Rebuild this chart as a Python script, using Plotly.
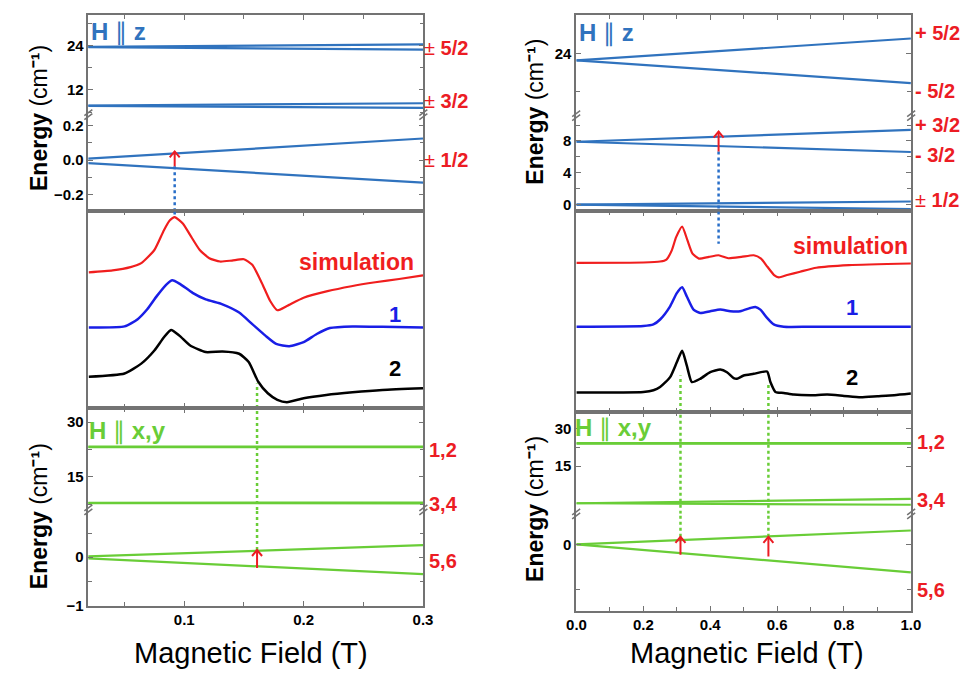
import plotly.graph_objects as go

W, H = 977, 674

# ---------------- Zeeman levels, H || z  (energy in cm^-1, field in T) ----------------
left_field = [0.0, 0.3]
left_z_p52 = [23.6, 24.3]
left_z_m52 = [23.6, 22.9]
left_z_p32 = [7.75, 8.4]
left_z_m32 = [7.75, 7.15]
left_z_p12 = [0.0, 0.125]
left_z_m12 = [-0.01, -0.13]

right_field = [0.0, 1.0]
right_z_p52 = [23.3, 25.6]
right_z_m52 = [23.3, 20.9]
right_z_p32 = [7.9, 9.4]
right_z_m32 = [7.9, 6.6]
right_z_p12 = [-0.05, 0.35]
right_z_m12 = [-0.05, -0.6]

# ---------------- Zeeman levels, H || x,y ----------------
left_xy_1 = [23.25, 23.25]
left_xy_2 = [23.1, 23.1]
left_xy_3 = [7.95, 8.0]
left_xy_4 = [7.85, 7.8]
left_xy_5 = [0.0, 0.25]
left_xy_6 = [0.0, -0.35]

right_xy_1 = [24.2, 24.2]
right_xy_2 = [24.0, 24.0]
right_xy_3 = [0.3, 2.0]
right_xy_4 = [0.3, -0.3]
right_xy_5 = [0.0, 0.31]
right_xy_6 = [0.0, -0.62]

# ---------------- EPR spectra (arb. units) ----------------
left_sim_B = [0.02, 0.04, 0.055, 0.064, 0.075, 0.083, 0.088, 0.092, 0.099, 0.105, 0.113,
              0.121, 0.13, 0.14, 0.15, 0.157, 0.165, 0.172, 0.178, 0.186, 0.20, 0.22,
              0.24, 0.26, 0.28, 0.30]
left_sim_I = [4.12, 4.18, 4.28, 4.40, 4.80, 5.40, 5.70, 5.80, 5.60, 5.25, 4.80,
              4.55, 4.45, 4.48, 4.52, 4.35, 3.80, 3.25, 2.97, 3.10, 3.35, 3.55,
              3.70, 3.82, 3.92, 4.03]

left_s1_B = [0.02, 0.05, 0.061, 0.069, 0.077, 0.085, 0.09, 0.096, 0.107, 0.118, 0.132,
             0.146, 0.157, 0.168, 0.177, 0.188, 0.20, 0.211, 0.222, 0.241, 0.266, 0.30]
left_s1_I = [2.45, 2.48, 2.70, 3.00, 3.40, 3.75, 3.88, 3.78, 3.50, 3.30, 3.15,
             2.90, 2.55, 2.20, 1.95, 1.88, 2.00, 2.25, 2.43, 2.48, 2.47, 2.45]

left_s2_B = [0.02, 0.05, 0.064, 0.075, 0.083, 0.089, 0.096, 0.105, 0.118, 0.132, 0.146,
             0.154, 0.162, 0.17, 0.178, 0.186, 0.20, 0.219, 0.241, 0.266, 0.30]
left_s2_I = [0.95, 1.05, 1.35, 1.75, 2.15, 2.37, 2.20, 1.90, 1.70, 1.72, 1.65,
             1.40, 0.80, 0.45, 0.25, 0.18, 0.30, 0.40, 0.48, 0.55, 0.60]

right_sim_B = [0.0, 0.2, 0.25, 0.269, 0.285, 0.298, 0.316, 0.332, 0.347, 0.366, 0.396,
               0.425, 0.454, 0.493, 0.53, 0.552, 0.571, 0.591, 0.605, 0.63, 0.669,
               0.717, 0.815, 1.0]
right_sim_I = [4.52, 4.53, 4.56, 4.62, 4.90, 5.30, 5.62, 5.20, 4.80, 4.65, 4.70,
               4.75, 4.66, 4.70, 4.75, 4.65, 4.40, 4.15, 4.08, 4.15, 4.25,
               4.37, 4.45, 4.50]

right_s1_B = [0.0, 0.2, 0.23, 0.25, 0.28, 0.30, 0.316, 0.33, 0.35, 0.37, 0.40, 0.43,
              0.46, 0.49, 0.52, 0.535, 0.55, 0.57, 0.59, 0.62, 0.7, 1.0]
right_s1_I = [2.58, 2.60, 2.65, 2.80, 3.20, 3.60, 3.78, 3.50, 3.10, 3.00, 3.05, 3.10,
              3.05, 3.05, 3.15, 3.18, 3.10, 2.85, 2.65, 2.58, 2.58, 2.58]

right_s2_B = [0.0, 0.2, 0.23, 0.25, 0.28, 0.30, 0.316, 0.33, 0.345, 0.37, 0.40, 0.43,
              0.45, 0.47, 0.48, 0.50, 0.53, 0.57, 0.58, 0.595, 0.62, 0.65, 0.7, 0.75,
              0.8, 0.85, 0.9, 0.95, 1.0]
right_s2_I = [0.58, 0.60, 0.65, 0.75, 1.05, 1.50, 1.85, 1.40, 0.90, 1.00, 1.20, 1.28,
              1.20, 1.02, 1.00, 1.10, 1.15, 1.22, 0.90, 0.60, 0.57, 0.52, 0.50, 0.52,
              0.48, 0.44, 0.47, 0.50, 0.55]

# ---------------- resonance transitions ----------------
left_res_z, left_arrow_z = 0.092, (-0.036, 0.05)
left_res_xy, left_arrow_xy = 0.161, (-0.22, 0.15)
right_res_z, right_arrow_z = 0.425, (6.67, 9.17)
right_res_xy = [0.311, 0.574]
right_arrow_xy = [(-0.23, 0.17), (-0.27, 0.17)]
left_dot_z_end, left_dot_xy_end = 5.88, 0.75
right_dot_z_end, right_dot_xy_end = 5.1, [1.1, 0.85]

# ---------------- styling ----------------
FONT = "Liberation Sans, Arial, sans-serif"
AX = "rgb(115,115,115)"
BLUE_LVL = "rgb(48,115,190)"
GREEN_LVL = "rgb(105,205,55)"
RED_TXT = "rgb(236,28,36)"
SIM_RED = "rgb(240,30,30)"
EXP_BLUE = "rgb(25,30,230)"

fig = go.Figure()


def ydom(top, bot):
    return [1 - bot / H, 1 - top / H]


# subplot geometry per column: x-domain (px), panel rows (px), ranges and ticks
columns = {
    "L": dict(x=(80, 422), rows=[(15, 116), (116, 214), (214, 413), (413, 516), (516, 613)],
              xrange=[0.0197, 0.3003], dtick=0.1, minor=0.05,
              yr=[[5.33, 32.3], [-0.297, 0.263], [0, 5.97], [6.0, 33.8], [-1.003, 0.98]],
              yt=[dict(dtick=12, tick0=0, minor=dict(dtick=6)),
                  dict(dtick=0.2, tick0=0, tickformat=".1f", minor=dict(dtick=0.1)),
                  None,
                  dict(dtick=15, tick0=0, minor=dict(dtick=7.5)),
                  dict(dtick=1, tick0=0, minor=dict(dtick=0.5))]),
    "R": dict(x=(578, 920), rows=[(15, 117), (117, 214), (214, 417), (417, 520), (520, 618)],
              xrange=[-0.001, 1.001], dtick=0.2, minor=0.1,
              yr=[[17.47, 28.1], [-0.91, 11.2], [-0.01, 6.08], [-3.9, 36.5], [-1.47, 0.68]],
              yt=[dict(tickvals=[24], minor=dict(tickvals=[20, 28])),
                  dict(dtick=4, tick0=0, minor=dict(dtick=2)),
                  None,
                  dict(tickvals=[15, 30], minor=dict(tickvals=[22.5])),
                  dict(tickvals=[0], minor=dict(tickvals=[-1]))]),
}

tickfont = dict(family=FONT, size=15, color="black", weight="bold")
layout = {}
for ci, key in enumerate(["L", "R"]):
    c = columns[key]
    xd = [c["x"][0] / W, c["x"][1] / W]
    for r in range(5):
        n = ci * 5 + r + 1
        xn = "xaxis" if n == 1 else f"xaxis{n}"
        yn = "yaxis" if n == 1 else f"yaxis{n}"
        xid = "x" if n == 1 else f"x{n}"
        yid = "y" if n == 1 else f"y{n}"
        xa = dict(domain=xd, anchor=yid, range=c["xrange"], showgrid=False, zeroline=False,
                  showline=True, linecolor=AX, linewidth=1.5, ticks="inside", ticklen=5,
                  tickcolor=AX, tickwidth=1.2, dtick=c["dtick"], tick0=0,
                  minor=dict(dtick=c["minor"], ticks="inside", ticklen=4, tickcolor=AX),
                  showticklabels=False, tickfont=tickfont, tickformat=".1f")
        if r == 0 or r == 3:
            xa["side"] = "top"
        if r == 1:
            xa["ticks"] = ""
            xa["minor"] = dict(ticks="")
        if r == 2:
            xa["mirror"] = "ticks"
        if r == 4:
            xa["showticklabels"] = True
        layout[xn] = xa

        ya = dict(domain=ydom(*c["rows"][r]), anchor=xid, range=c["yr"][r], showgrid=False,
                  zeroline=False, showline=True, linecolor=AX, linewidth=1.5,
                  tickfont=tickfont)
        if c["yt"][r] is None:
            ya.update(ticks="", showticklabels=False, mirror=True)
        else:
            t = dict(c["yt"][r])
            mn = t.pop("minor")
            mn.update(ticks="inside", ticklen=4, tickcolor=AX)
            ya.update(t)
            ya.update(mirror="ticks", ticks="inside", ticklen=5, tickcolor=AX,
                      tickwidth=1.2, minor=mn)
        layout[yn] = ya


def ax_ids(col, row):
    n = (0 if col == "L" else 5) + row + 1
    return ("x" if n == 1 else f"x{n}"), ("y" if n == 1 else f"y{n}")


def line(col, row, xs, ys, color, width=2.2, dash=None, shape="linear"):
    xa, ya = ax_ids(col, row)
    fig.add_trace(go.Scatter(x=xs, y=ys, mode="lines", xaxis=xa, yaxis=ya,
                             line=dict(color=color, width=width, dash=dash, shape=shape,
                                       smoothing=0.55 if shape == "spline" else None),
                             hoverinfo="skip", showlegend=False))


# energy levels
for ys in (left_z_p52, left_z_m52, left_z_p32, left_z_m32):
    line("L", 0, left_field, ys, BLUE_LVL)
for ys in (left_z_p12, left_z_m12):
    line("L", 1, left_field, ys, BLUE_LVL)
for ys in (right_z_p52, right_z_m52):
    line("R", 0, right_field, ys, BLUE_LVL)
for ys in (right_z_p32, right_z_m32, right_z_p12, right_z_m12):
    line("R", 1, right_field, ys, BLUE_LVL)
for ys in (left_xy_1, left_xy_2, left_xy_3, left_xy_4):
    line("L", 3, left_field, ys, GREEN_LVL)
for ys in (left_xy_5, left_xy_6):
    line("L", 4, left_field, ys, GREEN_LVL)
for ys in (right_xy_1, right_xy_2, right_xy_3, right_xy_4):
    line("R", 3, right_field, ys, GREEN_LVL)
for ys in (right_xy_5, right_xy_6):
    line("R", 4, right_field, ys, GREEN_LVL)

# spectra
line("L", 2, left_sim_B, left_sim_I, SIM_RED, 2.2, shape="spline")
line("L", 2, left_s1_B, left_s1_I, EXP_BLUE, 2.5, shape="spline")
line("L", 2, left_s2_B, left_s2_I, "black", 2.5, shape="spline")
line("R", 2, right_sim_B, right_sim_I, SIM_RED, 2.2, shape="spline")
line("R", 2, right_s1_B, right_s1_I, EXP_BLUE, 2.5, shape="spline")
line("R", 2, right_s2_B, right_s2_I, "black", 2.5, shape="spline")

# dotted connectors between transitions and spectral features
DOT_BLUE = "rgb(40,110,200)"
yr = columns["L"]["yr"]
line("L", 1, [left_res_z] * 2, [left_arrow_z[0], yr[1][0]], DOT_BLUE, 2.5, "dot")
line("L", 2, [left_res_z] * 2, [yr[2][1], left_dot_z_end], DOT_BLUE, 2.5, "dot")
line("L", 4, [left_res_xy] * 2, [left_arrow_xy[1], yr[4][1]], GREEN_LVL, 2.5, "dot")
line("L", 3, [left_res_xy] * 2, yr[3], GREEN_LVL, 2.5, "dot")
line("L", 2, [left_res_xy] * 2, [yr[2][0], left_dot_xy_end], GREEN_LVL, 2.5, "dot")
yr = columns["R"]["yr"]
line("R", 1, [right_res_z] * 2, [right_arrow_z[0], yr[1][0]], DOT_BLUE, 2.5, "dot")
line("R", 2, [right_res_z] * 2, [yr[2][1], right_dot_z_end], DOT_BLUE, 2.5, "dot")
for b, (tail, tip), end in zip(right_res_xy, right_arrow_xy, right_dot_xy_end):
    line("R", 4, [b] * 2, [tip, yr[4][1]], GREEN_LVL, 2.5, "dot")
    line("R", 3, [b] * 2, yr[3], GREEN_LVL, 2.5, "dot")
    line("R", 2, [b] * 2, [yr[2][0], end], GREEN_LVL, 2.5, "dot")


# transition arrows: shaft as a trace, open head as a pixel-sized path at the tip
def arrow(col, row, b, tail, tip):
    xa, ya = ax_ids(col, row)
    line(col, row, [b, b], [tail, tip], RED_TXT, 2)
    fig.add_shape(type="path", xref=xa, yref=ya, xsizemode="pixel", ysizemode="pixel",
                  xanchor=b, yanchor=tip, path="M-5,-6 L0,0 L5,-6",
                  line=dict(color=RED_TXT, width=2))


arrow("L", 1, left_res_z, *left_arrow_z)
arrow("L", 4, left_res_xy, *left_arrow_xy)
arrow("R", 1, right_res_z, *right_arrow_z)
for b, (tail, tip) in zip(right_res_xy, right_arrow_xy):
    arrow("R", 4, b, tail, tip)

# axis-break marks on both vertical axes
for col in ("L", "R"):
    for r in (1, 4):
        xa, ya = ax_ids(col, r)
        for xv in (0, 1):
            fig.add_shape(type="path", xref=f"{xa} domain", yref=f"{ya} domain",
                          xsizemode="pixel", ysizemode="pixel", xanchor=xv, yanchor=1,
                          path="M-4,-1 L4,5 M-4,-5 L4,1",
                          line=dict(color=AX, width=1.5))


def px(x):
    return x / W


def py(y):
    return 1 - y / H


def label(text, x, y, size=20, color=RED_TXT, anchor="left", **kw):
    fig.add_annotation(text=text, x=px(x), y=py(y), xref="paper", yref="paper",
                       xanchor=anchor, yanchor="middle", showarrow=False,
                       font=dict(family=FONT, size=size, color=color), **kw)


# state labels
for t, y in (("± <b>5/2</b>", 49), ("± <b>3/2</b>", 102), ("± <b>1/2</b>", 162)):
    label(t, 421, y)
for t, y in (("<b>+ 5/2</b>", 33), ("<b>- 5/2</b>", 92), ("<b>+ 3/2</b>", 127),
             ("<b>- 3/2</b>", 157), ("± <b>1/2</b>", 202)):
    label(t, 922, y)
for t, y in (("<b>1,2</b>", 455), ("<b>3,4</b>", 510), ("<b>5,6</b>", 568)):
    label(t, 426, y)
for t, y in (("<b>1,2</b>", 447), ("<b>3,4</b>", 506), ("<b>5,6</b>", 597)):
    label(t, 924, y)

# spectrum labels
label("<b>simulation</b>", 354, 265, 23, SIM_RED, "center")
label("<b>1</b>", 393, 318, 22, EXP_BLUE, "center")
label("<b>2</b>", 393, 373, 22, "black", "center")
label("<b>simulation</b>", 858, 249, 23, SIM_RED, "center")
label("<b>1</b>", 860, 311, 22, EXP_BLUE, "center")
label("<b>2</b>", 860, 382, 22, "black", "center")

# field orientation tags
label("<b>H</b> ∥ <b>z</b>", 81, 32, 24, BLUE_LVL)
label("<b>H</b> ∥ <b>z</b>", 579, 33, 24, BLUE_LVL)
label("<b>H</b> ∥ <b>x,y</b>", 79, 436, 24, GREEN_LVL)
label("<b>H</b> ∥ <b>x,y</b>", 575, 433, 24, GREEN_LVL)

# axis titles
ytitle = "<b>Energy</b> (cm<b>⁻¹</b>)"
for x, y in ((29, 119), (29, 522), (536, 113), (536, 515)):
    label(ytitle, x, y, 23, "black", "center", textangle=-90)
for x in (246, 752):
    label("Magnetic Field (T)", x, 661, 29, "black", "center")

fig.update_layout(width=W, height=H, margin=dict(l=0, r=0, t=0, b=0),
                  paper_bgcolor="white", plot_bgcolor="white", showlegend=False,
                  font=dict(family=FONT), **layout)

fig.write_html("out.html")
